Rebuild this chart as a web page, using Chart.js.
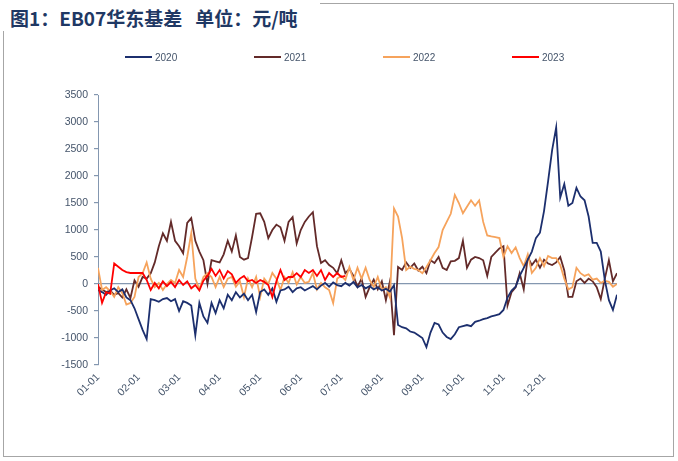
<!DOCTYPE html>
<html>
<head>
<meta charset="utf-8">
<script src="https://cdn.jsdelivr.net/npm/chart.js@4/dist/chart.umd.min.js"></script>
<style>
  html, body { margin: 0; padding: 0; background: #fff; }
  #wrap { position: relative; width: 678px; height: 461px; overflow: hidden; }
  #frame { position: absolute; left: 3px; top: 3px; width: 669px; height: 452px; border: 1.5px solid #a6a6a6; }
  #chartBox { position: absolute; left: 0; top: 0; width: 678px; height: 461px; }
  #title {
    position: absolute; left: 0; top: 0; width: 320px; height: 31px;
    padding-left: 10px; box-sizing: border-box; background: #fff;
    font: bold 19px "Noto Sans CJK SC", sans-serif; color: #1f3864; line-height: 36px; white-space: nowrap;
  }
  .leg { position: absolute; top: 50px; height: 14px; display: flex; align-items: center;
         font: 10px "Liberation Sans", Arial, sans-serif; color: #44546a; }
  .leg i { display: inline-block; width: 27px; height: 2px; margin-right: 3px; }
</style>
</head>
<body>
<div id="wrap">
  <div id="frame"></div>
  <div id="chartBox"><canvas id="basisChart" width="678" height="461"></canvas></div>
  <div id="title">图1：EB07华东基差&nbsp;&nbsp;&nbsp;单位：元/吨</div>
  <div id="legendBox"></div>
</div>
<script>
// ── Data (one value every 0.1 month) ─────────────────────────────
const MONTH_LABELS = ['01-01', '02-01', '03-01', '04-01', '05-01', '06-01',
                      '07-01', '08-01', '09-01', '10-01', '11-01', '12-01'];
const STEP = 0.1;
const SERIES_NAMES = ['2020', '2021', '2022', '2023'];

const BASIS_2020 = [
  -110, -150, -200, -120, -80, -150, -100, -250, -300, -450,
  -650, -850, -1020, -280, -300, -330, -280, -260, -320, -280,
  -500, -320, -350, -400, -950, -350, -600, -720, -350, -540,
  -300, -450, -200, -300, -150, -250, -180, -300, -200, -520,
  -150, -100, -200, -80, -330, -120, -100, -50, -150, -80,
  -60, -120, -80, -40, -100, -30, 20, -50, 30, -20,
  -40, 20, -30, 40, -60, -20, -80, -40, -100, -60,
  -120, -90, -140, -20, -760, -800, -820, -880, -900, -950,
  -1000, -1170, -900, -720, -750, -900, -980, -1020, -930, -800,
  -780, -760, -780, -700, -680, -650, -630, -600, -580, -560,
  -480, -250, -120, -50, 150, 300, 450, 600, 850, 950,
  1350, 1900, 2480, 2900, 1600, 1850, 1450, 1500, 1780, 1620,
  1550, 1250, 760, 760, 600, 70, -300, -480, -200
];

const BASIS_2021 = [
  -50, -100, -150, -120, -200, -170, -250, -100, -260, 70,
  -50, 130, 100, 200, 400, 700, 940, 800, 1150, 800,
  700, 570, 1130, 1220, 800, 600, 440, 0, 440, 420,
  400, 550, 800, 600, 900, 500, 450, 480, 870, 1300,
  1310, 1150, 850, 1000, 1100, 1050, 800, 1150, 1240, 750,
  1000, 1150, 1250, 1330, 700, 390, 440, 350, 300, 200,
  440, 200, 280, 150, -50, 100, -240, -60, 80, -100,
  50, -300, 50, -950, 315, 260, 400, 300, 380, 250,
  320, 200, 440, 390, 500, 300, 260, 420, 430, 480,
  800, 300, 450, 500, 480, 440, 150, 500, 580, 660,
  700, -400, -150, -60, 200, -100, 500, 350, 450, 300,
  450, 380, 350, 400, 500, 250, -240, -240, 50, 100,
  20, 100, 50, -60, -280, 100, 440, 50, 200
];

const BASIS_2022 = [
  300, -110, -60, -130, -240, -60, -170, -380, -350, -240,
  130, 200, 400, 100, -60, 20, -110, 0, 74, 20,
  259, 130, 500, 940, 100, -100, 130, 200, 130, -56,
  130, -56, 100, 130, -50, 50, -241, 100, -60, 130,
  -241, 100, 0, 204, 100, -111, 130, 20, 220, -10,
  130, 20, 40, 204, -100, 20, -60, -111, -352, 100,
  150, 74, 315, 74, 300, 100, 300, 74, -56, 130,
  -111, -60, -250, 1400, 1250, 850, 260, 320, 280, 260,
  200, 315, 440, 574, 685, 1000, 1150, 1300, 1650, 1500,
  1310, 1430, 1550, 1450, 1550, 1150, 900, 880, 870, 850,
  500, 700, 574, 680, 480, 330, 550, 204, 300, 480,
  330, 520, 480, 480, 350, 100, -100, -60, 300, 200,
  150, 180, 80, 100, 20, 60, 40, -50, 0
];

const BASIS_2023 = [
  0, -350, -150, -180, 380, 320, 259, 220, 204, 204,
  204, 204, 74, -111, 19, -80, 50, -40, 40, -56,
  74, -19, 50, -80, -19, -120, 60, 150, 280, 150,
  260, 100, 240, 180, 19, 100, 150, 50, 74, 19,
  74, 40, -19, -241, 50, 259, 74, 130, 130, 200,
  130, 259, 204, 259, 150, 259, 74, 204, 130, 204,
  130, 150
];

const Y_MIN = -1500, Y_MAX = 3500, Y_STEP = 500;

// ── Styles ───────────────────────────────────────────────────────
const COLORS = ['#1c2f6e', '#632a29', '#f6a35c', '#ff0000'];
const AXIS_COLOR = '#8497b0';
const LABEL_COLOR = '#44546a';

function toPoints(values) {
    return values.map((v, i) => ({ x: i * STEP, y: v }));
}

const seriesValues = [BASIS_2020, BASIS_2021, BASIS_2022, BASIS_2023];
const drawOrder = [1, 3, 2, 0];

const datasets = seriesValues.map((vals, i) => ({
    label: SERIES_NAMES[i],
    data: toPoints(vals),
    borderColor: COLORS[i],
    backgroundColor: COLORS[i],
    borderWidth: 1.8,
    pointRadius: 0,
    tension: 0,
    fill: false,
    order: drawOrder[i]
}));

// ── Legend (HTML) ────────────────────────────────────────────────
document.getElementById('legendBox').innerHTML = SERIES_NAMES.map((name, i) => `
  <div class="leg" style="left:${125 + i * 129}px;"><i style="background:${COLORS[i]};"></i>${name}</div>
`).join('');

// ── Chart ────────────────────────────────────────────────────────
new Chart(document.getElementById('basisChart').getContext('2d'), {
    type: 'line',
    data: { datasets },
    options: {
        responsive: false,
        animation: false,
        layout: { padding: { left: 0, right: 61, top: 95, bottom: 0 } },
        plugins: { legend: { display: false }, tooltip: { enabled: false } },
        scales: {
            x: {
                type: 'linear',
                min: 0,
                max: 12.8,
                afterBuildTicks: s => { s.ticks = MONTH_LABELS.map((_, i) => ({ value: i })); },
                afterFit: s => { s.height = 96; },
                grid: { display: false, drawTicks: false },
                border: { display: false },
                ticks: {
                    autoSkip: false, minRotation: 45, maxRotation: 45, padding: 6,
                    color: LABEL_COLOR, font: { family: 'Liberation Sans', size: 10.5 },
                    callback: v => MONTH_LABELS[v] ?? ''
                }
            },
            y: {
                min: Y_MIN,
                max: Y_MAX,
                afterFit: s => { s.width = 98; },
                border: { color: AXIS_COLOR, width: 1 },
                grid: {
                    color: c => (c.tick && c.tick.value === 0) ? AXIS_COLOR : 'rgba(0,0,0,0)',
                    tickColor: AXIS_COLOR,
                    tickLength: 4,
                    lineWidth: 1.2
                },
                ticks: {
                    stepSize: Y_STEP, padding: 6,
                    color: LABEL_COLOR, font: { family: 'Liberation Sans', size: 10.5 },
                    callback: v => String(v)
                }
            }
        }
    }
});
</script>
</body>
</html>
